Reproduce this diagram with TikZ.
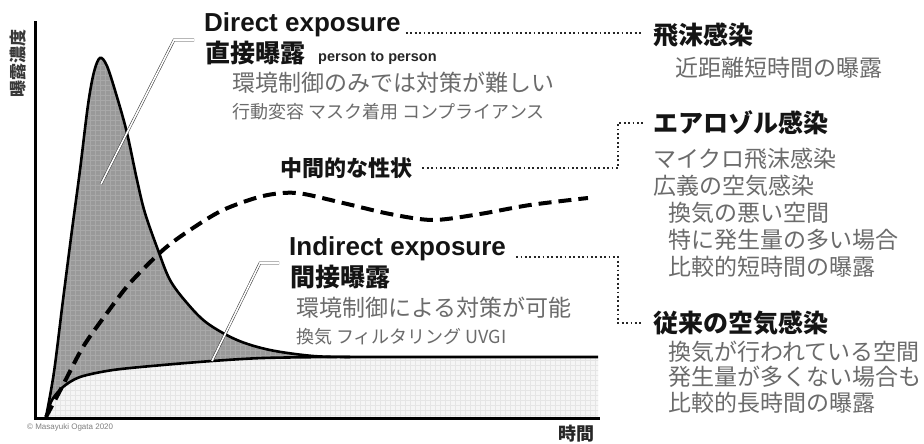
\documentclass[tikz,border=0pt]{standalone}
\usepackage{fontspec}
\setmainfont{Liberation Sans}
\newfontfamily\jp{Noto Sans CJK JP}
\tikzset{
  entitle/.style={anchor=base west, inner sep=0pt, text=black!92, font=\bfseries\fontsize{26}{30}\selectfont},
  jtitle/.style={anchor=west, inner sep=0pt, text=black!92, font=\jp\bfseries\fontsize{25}{28}\selectfont},
  body/.style={anchor=west, inner sep=0pt, text=black!58, font=\jp\fontsize{23}{26}\selectfont},
  smallbody/.style={anchor=west, inner sep=0pt, text=black!58, font=\jp\fontsize{18}{20}\selectfont},
  leader/.style={line width=1.8pt, dash pattern=on 1.8pt off 2.6pt, black!85},
  pointer/.style={draw=black!80, line width=0.5pt, double=white, double distance=1.6pt},
  curve/.style={line width=2.6pt, black},
  axis/.style={line width=3pt, black, line cap=rect},
}
\def\uppercurve{(46,417) (54,372) (63,300) (72,230) (80,170) (88,105) (94,72) (100,58) (107,66) (117,97) (127,133) (137,180) (145,213) (158,250) (170,280) (187,303) (207,323) (237,340) (270,350) (313,356) (350,357)}
\def\lowercurve{(46,417) (52,400) (63,387) (80,377) (113,370) (163,365) (212,361) (263,358) (330,357) (350,357)}
\def\lowerback{(350,357) (330,357) (263,358) (212,361) (163,365) (113,370) (80,377) (63,387) (52,400) (46,417)}
\begin{document}
\begin{tikzpicture}[x=1pt, y=-1pt]
\useasboundingbox[fill=white] (0,0) rectangle (924,444);

% light region below the indirect curve
\begin{scope}
\clip plot[smooth] coordinates {\lowercurve} -- (598,357) -- (598,418) -- cycle;
\fill[black!4] (35,300) rectangle (600,420);
\draw[black!10, line width=0.3pt, xstep=5pt, ystep=5pt] (35,300) grid (600,420);
\end{scope}

% grey region between the two curves
\begin{scope}
\clip plot[smooth, tension=0.55] coordinates {\uppercurve} -- plot[smooth] coordinates {\lowerback} -- cycle;
\fill[black!40] (35,40) rectangle (360,420);
\draw[white, opacity=0.15, line width=0.4pt, xstep=5pt, ystep=5pt] (35,40) grid (360,420);
\end{scope}

% curves
\draw[curve] plot[smooth, tension=0.55] coordinates {\uppercurve};
\draw[curve] plot[smooth] coordinates {\lowercurve} -- (598,357);

% dashed intermediate curve
\draw[line width=4pt, black, dash pattern=on 13pt off 7pt] plot[smooth] coordinates {(46,417) (62,387) (83,347) (107,313) (130,283) (163,250) (190,230) (223,210) (263,196) (297,193) (343,203) (390,214) (433,220) (480,214) (530,205) (588,198)};

% axes
\coordinate (ytop) at (35,23);
\coordinate (orig) at (35,418);
\coordinate (xend) at (598,418);
\draw[axis] (ytop) -- (orig) -- (xend);

% texts
\node[entitle] (dir) at (204,32) {Direct exposure};
\node[jtitle] (dirj) at (205,53) {直接曝露};
\node[anchor=base west, inner sep=0pt, font=\bfseries\fontsize{14.5}{16}\selectfont, text=black!85] (p2p) at (318,62) {person to person};
\node[body] (dir1) at (232,83) {環境制御のみでは対策が難しい};
\node[smallbody] (dir2) at (232,112) {行動変容 マスク着用 コンプライアンス};

\node[anchor=west, inner sep=0pt, text=black!92, font=\jp\bfseries\fontsize{22}{26}\selectfont] (mid) at (280,168) {中間的な性状};

\node[entitle] (ind) at (289,255) {Indirect exposure};
\node[jtitle] (indj) at (290,277) {間接曝露};
\node[body] (ind1) at (296,308) {環境制御による対策が可能};
\node[smallbody] (ind2) at (296,337) {換気 フィルタリング UVGI};

\node[jtitle] (r1) at (653,35) {飛沫感染};
\node[body] (r1a) at (675,68) {近距離短時間の曝露};

\node[jtitle] (r2) at (653,123) {エアロゾル感染};
\node[body] (r2a) at (653,159) {マイクロ飛沫感染};
\node[body] (r2b) at (653,186) {広義の空気感染};
\node[body] (r2c) at (668,213) {換気の悪い空間};
\node[body] (r2d) at (668,240) {特に発生量の多い場合};
\node[body] (r2e) at (668,267) {比較的短時間の曝露};

\node[jtitle] (r3) at (653,323) {従来の空気感染};
\node[body] (r3a) at (668,352) {換気が行われている空間};
\node[body] (r3b) at (668,377) {発生量が多くない場合も};
\node[body] (r3c) at (668,403) {比較的長時間の曝露};

\node[rotate=90, inner sep=0pt, text=black!78, font=\jp\bfseries\fontsize{17}{18}\selectfont] (ylab) at (18,64) {曝露濃度};
\node[anchor=east, inner sep=0pt, text=black!85, font=\jp\bfseries\fontsize{18}{20}\selectfont] (xlab) at (595,434) {時間};
\node[anchor=west, inner sep=0pt, text=black!50, font=\fontsize{8}{9}\selectfont] (copy) at (27,427) {© Masayuki Ogata 2020};

% dotted leaders
\coordinate (dl) at ([xshift=5pt, yshift=-1pt]dir.base east);
\draw[leader] (dl) -- ([xshift=-11pt]r1.west |- dl);
\draw[leader] ([xshift=10pt]mid.east) -| ([xshift=-35pt]r2.west) -- ([xshift=-8pt]r2.west);
\coordinate (il) at ([xshift=10pt, yshift=-2pt]ind.base east);
\draw[leader] (il) -| ([xshift=-35pt]r3.west) -- ([xshift=-10pt]r3.west);

% pointers
\coordinate (pdtip) at (101,184);
\coordinate (pdknee) at (174,40);
\draw[pointer] (pdtip) -- (pdknee) -- ([xshift=-10pt]pdknee -| dir.west);
\coordinate (pitip) at (212,361);
\coordinate (piknee) at (260,263);
\draw[pointer] (pitip) -- (piknee) -- ([xshift=-10pt]piknee -| ind.west);
\end{tikzpicture}
\end{document}
